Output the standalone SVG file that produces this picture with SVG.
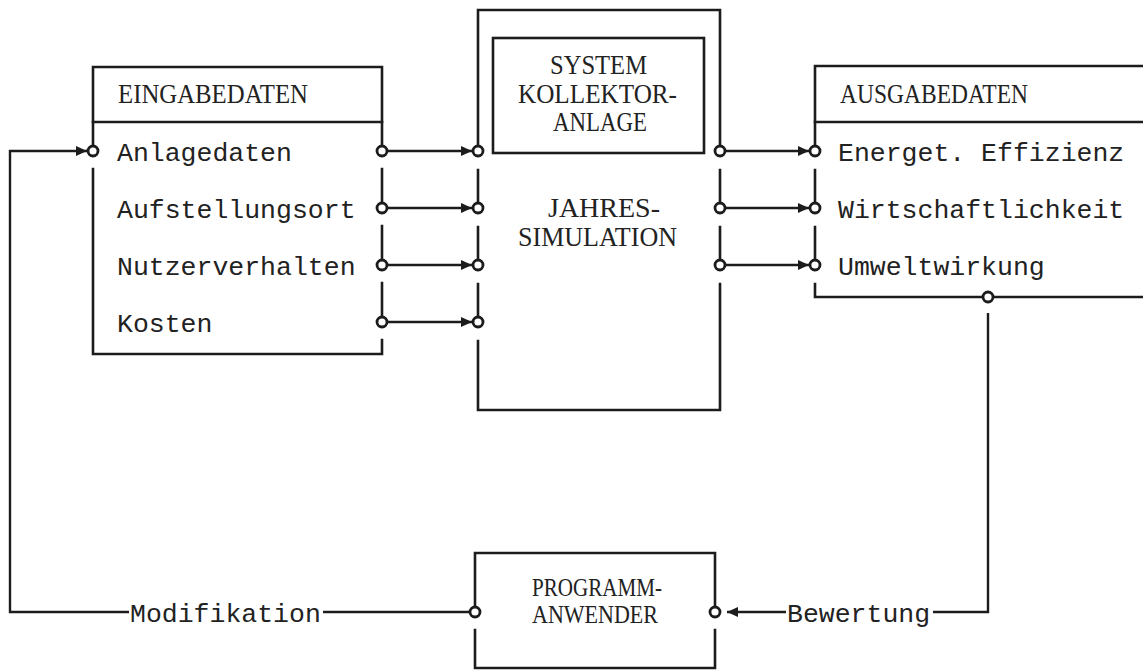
<svg xmlns="http://www.w3.org/2000/svg" width="1143" height="671" viewBox="0 0 1143 671">
  <style>
    .frame { fill: none; stroke: #1c1c1c; stroke-width: 2.6; stroke-linecap: square; }
    .wire { fill: none; stroke: #1c1c1c; stroke-width: 2.4; }
    .port { fill: #ffffff; stroke: #1c1c1c; stroke-width: 2.8; }
    .label { font-family: "Liberation Mono", "Courier New", monospace; font-size: 26.5px; fill: #222222; }
    .caps { font-family: "Liberation Serif", "Times New Roman", serif; font-size: 28px; fill: #222222; }
    .caps-sm { font-family: "Liberation Serif", "Times New Roman", serif; font-size: 25px; fill: #222222; }
  </style>
  <defs>
    <marker id="arrow" viewBox="0 0 11 10" refX="11" refY="5" markerWidth="11" markerHeight="10" markerUnits="userSpaceOnUse" orient="auto">
      <path d="M0,0 L11,5 L0,10 z" fill="#1c1c1c"/>
    </marker>
  </defs>
  <rect width="1143" height="671" fill="#ffffff"/>

  <!-- Input data block -->
  <g id="eingabedaten">
    <path class="frame" d="M93,146 V67 H382 V146"/>
    <path class="frame" d="M93,122 H382"/>
    <path class="frame" d="M93,169 V354 H382 V340"/>
    <path class="frame" d="M382,169 V203 M382,226 V260 M382,283 V317"/>
    <circle class="port" cx="93" cy="151" r="5"/>
    <circle class="port" cx="382" cy="151" r="5"/>
    <circle class="port" cx="382" cy="208" r="5"/>
    <circle class="port" cx="382" cy="265" r="5"/>
    <circle class="port" cx="382" cy="322" r="5"/>
    <text class="caps" x="118" y="103" textLength="190" lengthAdjust="spacingAndGlyphs">EINGABEDATEN</text>
    <text class="label" x="117" y="161">Anlagedaten</text>
    <text class="label" x="117" y="218">Aufstellungsort</text>
    <text class="label" x="117" y="275">Nutzerverhalten</text>
    <text class="label" x="117" y="332">Kosten</text>
  </g>

  <!-- Annual simulation block with collector system -->
  <g id="simulation">
    <path class="frame" d="M478,146 V10 H720 V146"/>
    <path class="frame" d="M478,170 V203 M478,227 V260 M478,284 V317"/>
    <path class="frame" d="M478,341 V410 H720 V284"/>
    <path class="frame" d="M720,170 V203 M720,227 V260"/>
    <rect class="frame" x="493" y="38" width="211" height="115"/>
    <circle class="port" cx="478" cy="151" r="5"/>
    <circle class="port" cx="478" cy="208" r="5"/>
    <circle class="port" cx="478" cy="265" r="5"/>
    <circle class="port" cx="478" cy="322" r="5"/>
    <circle class="port" cx="720" cy="151" r="5"/>
    <circle class="port" cx="720" cy="208" r="5"/>
    <circle class="port" cx="720" cy="265" r="5"/>
    <text class="caps" x="550" y="74" textLength="97" lengthAdjust="spacingAndGlyphs">SYSTEM</text>
    <text class="caps" x="518" y="103" textLength="159" lengthAdjust="spacingAndGlyphs">KOLLEKTOR-</text>
    <text class="caps" x="553" y="131" textLength="94" lengthAdjust="spacingAndGlyphs">ANLAGE</text>
    <text class="caps" x="548" y="217" textLength="112" lengthAdjust="spacingAndGlyphs">JAHRES-</text>
    <text class="caps" x="518" y="246" textLength="159" lengthAdjust="spacingAndGlyphs">SIMULATION</text>
  </g>

  <!-- Output data block -->
  <g id="ausgabedaten">
    <path class="frame" d="M815,146 V66 H1145"/>
    <path class="frame" d="M815,122 H1145"/>
    <path class="frame" d="M815,170 V203 M815,227 V260"/>
    <path class="frame" d="M815,284 V297 H983 M993,297 H1145"/>
    <circle class="port" cx="815" cy="151" r="5"/>
    <circle class="port" cx="815" cy="208" r="5"/>
    <circle class="port" cx="815" cy="265" r="5"/>
    <circle class="port" cx="988" cy="297" r="5"/>
    <text class="caps" x="840" y="103" textLength="188" lengthAdjust="spacingAndGlyphs">AUSGABEDATEN</text>
    <text class="label" x="838" y="161">Energet. Effizienz</text>
    <text class="label" x="838" y="218">Wirtschaftlichkeit</text>
    <text class="label" x="838" y="275">Umweltwirkung</text>
  </g>

  <!-- Program user block -->
  <g id="programmanwender">
    <path class="frame" d="M475,607 V553 H715 V607"/>
    <path class="frame" d="M475,630 V668 H715 V630"/>
    <circle class="port" cx="475" cy="612" r="5"/>
    <circle class="port" cx="715" cy="612" r="5"/>
    <text class="caps-sm" x="532" y="596" textLength="130" lengthAdjust="spacingAndGlyphs">PROGRAMM-</text>
    <text class="caps-sm" x="532" y="623" textLength="126" lengthAdjust="spacingAndGlyphs">ANWENDER</text>
  </g>

  <!-- Connectors -->
  <g id="connectors">
    <path class="wire" d="M387,151 H472" marker-end="url(#arrow)"/>
    <path class="wire" d="M387,208 H472" marker-end="url(#arrow)"/>
    <path class="wire" d="M387,265 H472" marker-end="url(#arrow)"/>
    <path class="wire" d="M387,322 H472" marker-end="url(#arrow)"/>
    <path class="wire" d="M725,151 H809" marker-end="url(#arrow)"/>
    <path class="wire" d="M725,208 H809" marker-end="url(#arrow)"/>
    <path class="wire" d="M725,265 H809" marker-end="url(#arrow)"/>
    <!-- evaluation feedback -->
    <path class="wire" d="M988,313 V612 H933"/>
    <path class="wire" d="M786,612 H727" marker-end="url(#arrow)"/>
    <text class="label" x="787" y="622">Bewertung</text>
    <!-- modification feedback -->
    <path class="wire" d="M470,612 H323"/>
    <path class="wire" d="M129,612 H10 V151 H87" marker-end="url(#arrow)"/>
    <text class="label" x="130" y="622">Modifikation</text>
  </g>
</svg>
